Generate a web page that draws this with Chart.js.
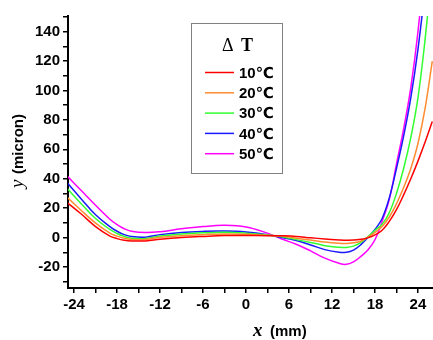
<!DOCTYPE html>
<html>
<head>
<meta charset="utf-8">
<script src="https://cdn.jsdelivr.net/npm/chart.js@4/dist/chart.umd.min.js"></script>
<style>
  html, body { margin: 0; padding: 0; background: #fff; }
  #wrap { width: 433px; height: 340px; position: relative; }
</style>
</head>
<body>
<div id="wrap"><canvas id="chart"></canvas></div>
<script>
// x positions (mm) and deflection (micron) for each temperature difference
const xs = [-25, -23, -21, -19, -18, -17, -16, -14, -12, -9, -6, -3, 0, 3, 5, 7, 9, 11, 13, 14, 15, 16, 17, 18, 19, 20, 21, 22, 23, 24, 25, 26];
const dT10 = [24, 16, 7.5, 1, -0.7, -1.8, -2.3, -2.3, -1.2, 0, 0.8, 1.4, 1.4, 1.3, 1.2, 0.8, -0.2, -1, -1.6, -1.8, -1.7, -1.2, -0.2, 1.8, 5, 11, 19, 29, 40, 52, 65, 79];
const dT20 = [27.5, 18.4, 9.8, 3, 1, -0.5, -1.3, -1.3, 0.2, 1.3, 2, 2.5, 2.2, 1.5, 1, -0.5, -1.6, -3, -3.9, -4, -3.5, -2.5, 0.3, 3.5, 7.5, 14, 23, 34, 47, 64, 88, 120];
const dT30 = [33.5, 23, 13, 5.5, 2.8, 0.8, -0.4, -0.6, 1, 2.5, 3.2, 3.6, 3, 1.8, 0.5, -1.4, -3.3, -5.5, -6.6, -6.7, -5.8, -3.5, 0.5, 5, 9, 17, 30, 47, 68, 95, 135, 185];
const dT40 = [37.5, 26.3, 15.5, 7.5, 4.3, 2, 0.7, 0.3, 2, 3.5, 4.2, 4.4, 3.8, 2, 0, -2, -5, -8.2, -10, -10, -8.5, -5, 0, 5.5, 13, 27, 47, 69, 95, 128, 170, 220];
const dT50 = [42, 32, 22, 12.5, 8.8, 6, 4.3, 3.4, 4, 6, 7.5, 8.3, 7.2, 3, -1, -4.5, -9, -14, -17.5, -18.2, -16.5, -13, -8.5, -1.5, 11, 26, 50, 74, 102, 140, 190, 250];

const seriesLabels = ["10℃", "20℃", "30℃", "40℃", "50℃"];
const seriesData = [dT10, dT20, dT30, dT40, dT50];
const seriesColors = ["#ff0000", "#ff8c30", "#30ff30", "#1a1aff", "#ff00ff"];

const xTickLabels = [-24, -18, -12, -6, 0, 6, 12, 18, 24];
const yTickLabels = [-20, 0, 20, 40, 60, 80, 100, 120, 140];

const tickFont = { family: "'Liberation Sans', Arial, sans-serif", size: 15, weight: "bold" };

// legend box and axis titles drawn by hand
const decorations = {
  id: "decorations",
  afterDraw(chart) {
    const ctx = chart.ctx;
    ctx.save();
    // legend
    ctx.strokeStyle = "#808080";
    ctx.lineWidth = 1;
    ctx.strokeRect(191.5, 23.5, 91, 150);
    ctx.fillStyle = "#000";
    ctx.textBaseline = "alphabetic";
    ctx.font = "18px 'Liberation Serif', serif";
    ctx.fillText("Δ", 222, 51);
    ctx.font = "bold 18px 'Liberation Serif', serif";
    ctx.fillText("T", 241, 51);
    chart.data.datasets.forEach((ds, i) => {
      const y = 72.5 + i * 20.3;
      ctx.strokeStyle = ds.borderColor;
      ctx.lineWidth = 1.5;
      ctx.beginPath();
      ctx.moveTo(205, y);
      ctx.lineTo(234, y);
      ctx.stroke();
      ctx.fillStyle = "#000";
      ctx.font = "bold 15px 'Liberation Sans', 'DejaVu Sans', sans-serif";
      ctx.textBaseline = "middle";
      ctx.fillText(ds.label, 239, y + 1);
    });
    // x axis title
    ctx.textBaseline = "alphabetic";
    ctx.font = "italic bold 19px 'Liberation Serif', serif";
    ctx.fillText("x", 253, 336);
    ctx.font = "bold 15px 'Liberation Sans', Arial, sans-serif";
    ctx.fillText("(mm)", 270, 336);
    // y axis title
    ctx.translate(23, 188);
    ctx.rotate(-Math.PI / 2);
    ctx.font = "italic 19px 'Liberation Serif', serif";
    ctx.fillText("y", 0, 0);
    ctx.font = "bold 15px 'Liberation Sans', Arial, sans-serif";
    ctx.fillText("(micron)", 14, 0);
    ctx.restore();
  }
};

new Chart(document.getElementById("chart"), {
  type: "line",
  data: {
    datasets: seriesData.map((vals, i) => ({
      label: seriesLabels[i],
      data: xs.map((x, j) => ({ x: x, y: vals[j] })),
      borderColor: seriesColors[i],
      borderWidth: 1.5,
      pointRadius: 0,
      fill: false,
      tension: 0.4
    }))
  },
  options: {
    responsive: true,
    maintainAspectRatio: false,
    animation: false,
    layout: { padding: { top: 16, right: 0, left: 0, bottom: 0 } },
    plugins: { legend: { display: false }, tooltip: { enabled: false } },
    scales: {
      x: {
        type: "linear",
        min: -24.85,
        max: 26.1,
        afterFit(s) { s.height = 52; },
        afterBuildTicks(s) {
          const t = [];
          for (let v = -24; v <= 26; v += 3) t.push({ value: v });
          s.ticks = t;
        },
        border: { color: "#000", width: 2 },
        grid: { drawOnChartArea: false, drawTicks: true, tickLength: 5, color: "#000", lineWidth: 1.5 },
        ticks: {
          color: "#000",
          font: tickFont,
          padding: 3,
          maxRotation: 0,
          autoSkip: false,
          callback: v => xTickLabels.includes(v) ? String(v) : ""
        }
      },
      y: {
        min: -34.3,
        max: 150.7,
        afterFit(s) { s.width = 68; },
        afterBuildTicks(s) {
          const t = [];
          for (let v = -30; v <= 150; v += 10) t.push({ value: v });
          s.ticks = t;
        },
        border: { color: "#000", width: 2 },
        grid: { drawOnChartArea: false, drawTicks: true, tickLength: 5, color: "#000", lineWidth: 1.5 },
        ticks: {
          color: "#000",
          font: tickFont,
          padding: 3,
          autoSkip: false,
          callback: v => yTickLabels.includes(v) ? String(v) : ""
        }
      }
    }
  },
  plugins: [decorations]
});
</script>
</body>
</html>
